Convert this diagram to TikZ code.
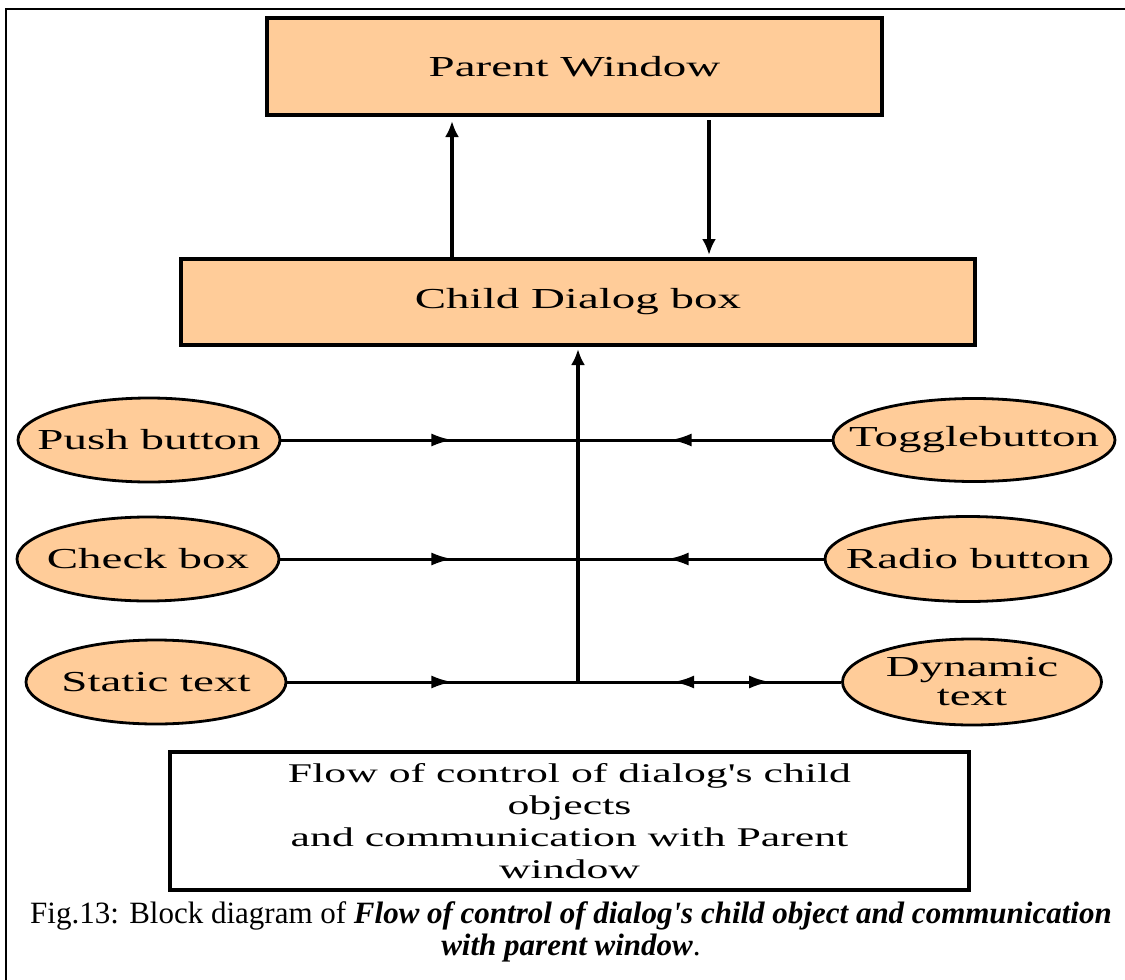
\documentclass[tikz,border=0pt]{standalone}
\usepackage{fontspec}
\setmainfont{Liberation Serif}[Ligatures=TeXOff]
\newfontfamily\boxfont{Liberation Serif}[FakeStretch=1.62,Ligatures=TeXOff]
\usetikzlibrary{shapes.geometric,arrows.meta,decorations.markings}
\definecolor{peach}{HTML}{FFCC99}
\newcommand{\zw}[1]{\makebox[0pt]{#1}}
\begin{document}
\begin{tikzpicture}[x=1pt,y=-1pt,
  blk/.style={draw=black,line width=4pt,fill=peach,inner sep=0pt,
    font=\boxfont\fontsize{29}{32}\selectfont},
  oval/.style={ellipse,draw=black,line width=2.8pt,fill=peach,inner sep=0pt,
    align=center,font=\boxfont\fontsize{29}{29}\selectfont},
  vline/.style={line width=3.5pt,-{Latex[length=16pt,width=14pt]}},
  hline/.style={line width=3pt},
  tipat/.style={postaction={decorate,decoration={markings,
    mark=at position #1 with {\arrow{Latex[length=21pt,width=13pt]}}}}},
  tipback/.style={postaction={decorate,decoration={markings,
    mark=at position #1 with {\arrowreversed{Latex[length=21pt,width=13pt]}}}}}
]
\useasboundingbox (0,0) rectangle (1125,980);
% frame
\coordinate (f0) at (6,980);
\coordinate (f1) at (6,9);
\coordinate (f2) at (1125,9);
\draw[line width=1.5pt] (f0) -- (f1) -- (f2);

% blocks
\node[blk,minimum width=615pt,minimum height=97pt] (parent) at (574.5,66.5) {Parent Window};
\node[blk,minimum width=794pt,minimum height=86pt] (child) at (578,302) {Child Dialog box};

% parent/child arrows
\coordinate (ux) at (452,0);
\coordinate (dx) at (709,0);
\draw[vline,shorten >=4pt] (ux |- child.north) -- (ux |- parent.south);
\draw[vline,shorten <=3pt,shorten >=2pt] (dx |- parent.south) -- (dx |- child.north);

% ovals
\node[oval,minimum width=262pt,minimum height=84pt] (pb) at (149,440) {\zw{Push button}};
\node[oval,minimum width=262pt,minimum height=84pt] (cb) at (148,559) {\zw{Check box}};
\node[oval,minimum width=260pt,minimum height=84pt] (st) at (156,682) {\zw{Static text}};
\node[oval,minimum width=282pt,minimum height=83pt] (tb) at (974,440) {\zw{Togglebutton}};
\node[oval,minimum width=286pt,minimum height=85pt] (rb) at (968,559) {\zw{Radio button}};
\node[oval,minimum width=259pt,minimum height=86pt] (dt) at (972,682) {\zw{Dynamic}\\\zw{text}};

% junctions on trunk
\coordinate (j1) at (578,440);
\coordinate (j2) at (578,559);
\coordinate (j3) at (578,682);

\draw[hline,tipat=171pt] (pb.east) -- (j1);
\draw[hline,tipat=172pt] (cb.east) -- (j2);
\draw[hline,tipat=165pt] (st.east) -- (j3);
\draw[hline,tipat=161pt] (tb.west) -- (j1);
\draw[hline,tipat=156pt] (rb.west) -- (j2);
\draw[hline,tipat=168pt,tipback=71pt] (dt.west) -- (j3);

% trunk
\draw[vline,line width=4pt,shorten >=2pt] (j3) -- (j3 |- child.south);

% bottom box
\node[draw=black,line width=4pt,fill=white,inner sep=0pt,minimum width=799pt,
  minimum height=138pt,align=center,font=\boxfont\fontsize{27}{32}\selectfont]
  (fbox) at (569.5,821)
  {Flow of control of dialog's child\\objects\\and communication with Parent\\window};

% caption
\node[inner sep=0pt,align=center,font=\fontsize{31}{32}\selectfont] (cap) at (571,932)
  {Fig.13: Block diagram of \textbf{\textit{Flow of control of dialog's child object and communication}}\\
   \textbf{\textit{with parent window}}.};
\end{tikzpicture}
\end{document}
